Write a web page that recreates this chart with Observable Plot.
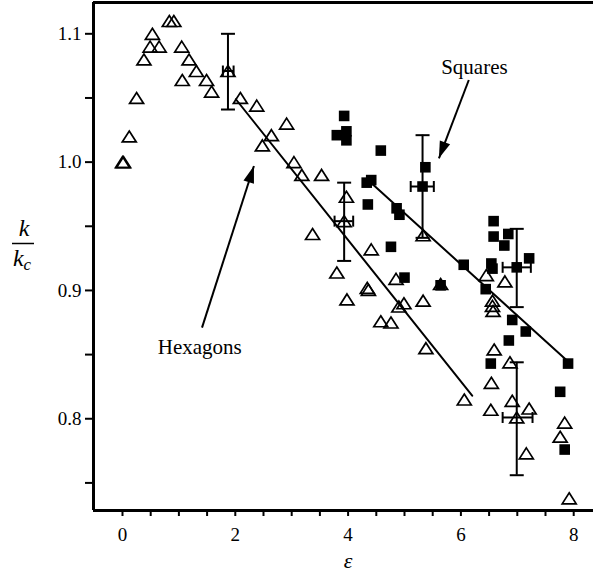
<!DOCTYPE html>
<html>
<head>
<meta charset="utf-8">
<script src="https://cdn.jsdelivr.net/npm/d3@7"></script>
<script src="https://cdn.jsdelivr.net/npm/@observablehq/plot@0.6"></script>
<style>
  html, body { margin: 0; padding: 0; background: #fff; }
  #chart svg { display: block; }
</style>
</head>
<body>
<div id="chart"></div>
<script>
// ---- data ----
const hexX = [0, 0.02, 0.12, 0.25, 0.38, 0.49, 0.53, 0.65, 0.83, 0.91, 1.05, 1.06, 1.18, 1.31, 1.49, 1.58, 1.87,
  2.09, 2.38, 2.48, 2.64, 2.91, 3.04, 3.18, 3.53, 3.37, 3.80, 3.97, 3.93, 3.98, 4.36, 4.34, 4.41, 4.58, 4.76,
  4.85, 4.90, 4.99, 5.33, 5.38, 5.33, 5.64, 6.06, 6.45, 6.78, 6.56, 6.56, 6.57, 6.59, 6.87, 6.54, 6.91, 6.53,
  7.21, 6.99, 7.16, 7.84, 7.76, 7.92];
const hexY = [1.0, 1.0, 1.02, 1.05, 1.08, 1.09, 1.10, 1.09, 1.11, 1.11, 1.09, 1.064, 1.08, 1.071, 1.064, 1.055, 1.071,
  1.05, 1.044, 1.013, 1.021, 1.03, 1.0, 0.99, 0.99, 0.944, 0.914, 0.973, 0.954, 0.893, 0.9005, 0.902, 0.932, 0.876, 0.875,
  0.909, 0.8875, 0.890, 0.892, 0.855, 0.943, 0.905, 0.815, 0.912, 0.907, 0.892, 0.888, 0.884, 0.854, 0.844, 0.828, 0.814, 0.807,
  0.808, 0.801, 0.773, 0.797, 0.786, 0.738];

const sqX = [3.93, 3.80, 3.97, 3.97, 4.58, 5.37, 5.32, 4.33, 4.41, 4.35, 4.86, 4.91, 4.76, 5.0, 5.64, 6.05,
  6.58, 6.58, 6.84, 6.77, 7.21, 6.54, 6.56, 6.99, 6.44, 6.91, 7.15, 6.85, 6.53, 7.90, 7.76, 7.84];
const sqY = [1.036, 1.021, 1.024, 1.017, 1.009, 0.996, 0.981, 0.984, 0.986, 0.967, 0.964, 0.959, 0.934, 0.910, 0.904, 0.920,
  0.954, 0.942, 0.944, 0.935, 0.925, 0.921, 0.917, 0.918, 0.901, 0.877, 0.868, 0.861, 0.843, 0.843, 0.821, 0.776];

// error bars: centre, vertical extent, horizontal extent
const errX  = [1.87, 3.93, 6.99, 5.32, 6.99];
const errY  = [1.071, 0.954, 0.801, 0.981, 0.918];
const errY1 = [1.041, 0.923, 0.756, 0.941, 0.887];
const errY2 = [1.100, 0.984, 0.844, 1.021, 0.948];
const errX1 = [1.78, 3.76, 6.74, 5.11, 6.74];
const errX2 = [1.97, 4.09, 7.27, 5.52, 7.24];

// fit lines
const hexFitX = [2.01, 6.2];
const hexFitY = [1.049, 0.818];
const sqFitX = [4.43, 7.89];
const sqFitY = [0.983, 0.845];

// annotations
const labels = ["Squares", "Hexagons"];
const labelX = [6.24, 1.37];
const labelY = [1.074, 0.856];
const arrowX1 = [6.14, 1.41];
const arrowY1 = [1.064, 0.871];
const arrowX2 = [5.61, 2.33];
const arrowY2 = [1.003, 0.997];

// ticks
const xTicks = d3.range(0, 8.01, 0.5);
const yTicks = d3.range(0.75, 1.1001, 0.05).map(v => +v.toFixed(2));
const xLabel = "ε";
const xLabelAt = 4;

// ---- layout ----
const W = 593, H = 575;
const mL = 93, mR = 0, mT = 2, mB = 65;
const xDomain = [-0.514, 8.351];
const yDomain = [0.7285, 1.1244];
const FONT = "'Liberation Serif', 'Times New Roman', serif";

const hex = hexX.map((x, i) => ({x, y: hexY[i]}));
const sq = sqX.map((x, i) => ({x, y: sqY[i]}));
const err = errX.map((x, i) => ({x, y: errY[i], y1: errY1[i], y2: errY2[i], x1: errX1[i], x2: errX2[i]}));
const hexFit = hexFitX.map((x, i) => ({x, y: hexFitY[i]}));
const sqFit = sqFitX.map((x, i) => ({x, y: sqFitY[i]}));
const ann = labels.map((t, i) => ({t, x: labelX[i], y: labelY[i]}));

// pixel slopes to orient arrowheads (from the scale definitions)
const kx = (W - mL - mR) / (xDomain[1] - xDomain[0]);
const ky = (H - mT - mB) / (yDomain[1] - yDomain[0]);
const arrows = labels.map((t, i) => {
  const dx = (arrowX2[i] - arrowX1[i]) * kx;
  const dy = -(arrowY2[i] - arrowY1[i]) * ky;
  return {x1: arrowX1[i], y1: arrowY1[i], x2: arrowX2[i], y2: arrowY2[i], rot: Math.atan2(dy, dx) * 180 / Math.PI};
});

// custom symbols
const triSym = {draw(c) { c.moveTo(0, -5.5); c.lineTo(7, 5.5); c.lineTo(-7, 5.5); c.closePath(); }};
const sqSym = {draw(c) { c.rect(-5.3, -5.3, 10.6, 10.6); }};
const hCap = {draw(c) { c.moveTo(-7, 0); c.lineTo(7, 0); }};
const vCap = {draw(c) { c.moveTo(0, -5.5); c.lineTo(0, 5.5); }};
const head = {draw(c) { c.moveTo(0, 0); c.lineTo(-17, -5.5); c.lineTo(-17, 5.5); c.closePath(); }};

const plot = Plot.plot({
  width: W, height: H,
  marginLeft: mL, marginRight: mR, marginTop: mT, marginBottom: mB,
  style: {fontFamily: FONT, fontSize: "19px", color: "#000", background: "#fff", overflow: "visible"},
  x: {domain: xDomain, label: null},
  y: {domain: yDomain, label: null},
  marks: [
    Plot.axisX({ticks: xTicks, tickSize: 6, tickPadding: 11, strokeWidth: 2,
      tickFormat: d => (Math.abs(d % 2) < 1e-9 ? d3.format("d")(d) : ""), fontSize: 19}),
    Plot.axisY({ticks: yTicks, tickSize: 8, tickPadding: 4, strokeWidth: 2,
      tickFormat: d => (Math.abs(Math.round(d * 10) - d * 10) < 1e-6 ? d3.format(".1f")(d) : ""), fontSize: 19}),
    Plot.ruleX([xDomain[0]], {strokeWidth: 3}),
    Plot.ruleY([yDomain[0], yDomain[1]], {strokeWidth: 3}),
    // fits
    Plot.line(hexFit, {x: "x", y: "y", strokeWidth: 2}),
    Plot.line(sqFit, {x: "x", y: "y", strokeWidth: 2}),
    // error bars
    Plot.ruleX(err, {x: "x", y1: "y1", y2: "y2", strokeWidth: 2}),
    Plot.ruleY(err, {y: "y", x1: "x1", x2: "x2", strokeWidth: 2}),
    Plot.dot(err, {x: "x", y: "y1", symbol: hCap, stroke: "black", strokeWidth: 2, fill: "none"}),
    Plot.dot(err, {x: "x", y: "y2", symbol: hCap, stroke: "black", strokeWidth: 2, fill: "none"}),
    Plot.dot(err, {x: "x1", y: "y", symbol: vCap, stroke: "black", strokeWidth: 2, fill: "none"}),
    Plot.dot(err, {x: "x2", y: "y", symbol: vCap, stroke: "black", strokeWidth: 2, fill: "none"}),
    // data
    Plot.dot(hex, {x: "x", y: "y", symbol: triSym, fill: "white", fillOpacity: 0, stroke: "black", strokeWidth: 1.7}),
    Plot.dot(sq, {x: "x", y: "y", symbol: sqSym, fill: "black", stroke: "none"}),
    // annotations
    Plot.link(arrows, {x1: "x1", y1: "y1", x2: "x2", y2: "y2", strokeWidth: 2}),
    Plot.dot(arrows, {x: "x2", y: "y2", symbol: head, rotate: "rot", fill: "black", stroke: "none"}),
    Plot.text(ann, {x: "x", y: "y", text: "t", fontSize: 21, fill: "black"}),
    // x axis label
    Plot.text([xLabelAt], {x: d => d, text: () => xLabel, frameAnchor: "bottom", dy: 57, fontSize: 22, fontStyle: "italic", fill: "black"})
  ]
});

// y axis fraction label k / k_c
const svg = d3.select(plot);
const g = svg.append("g").attr("font-family", FONT).attr("font-style", "italic").attr("font-size", 24).attr("fill", "black").attr("text-anchor", "middle");
g.append("text").attr("x", 24).attr("y", 236).text("k");
g.append("line").attr("x1", 12).attr("x2", 34).attr("y1", 243.5).attr("y2", 243.5).attr("stroke", "black").attr("stroke-width", 1.5);
const den = g.append("text").attr("x", 22).attr("y", 266);
den.append("tspan").text("k");
den.append("tspan").attr("font-size", 17).attr("dy", 4).text("c");

document.getElementById("chart").appendChild(plot);
</script>
</body>
</html>
